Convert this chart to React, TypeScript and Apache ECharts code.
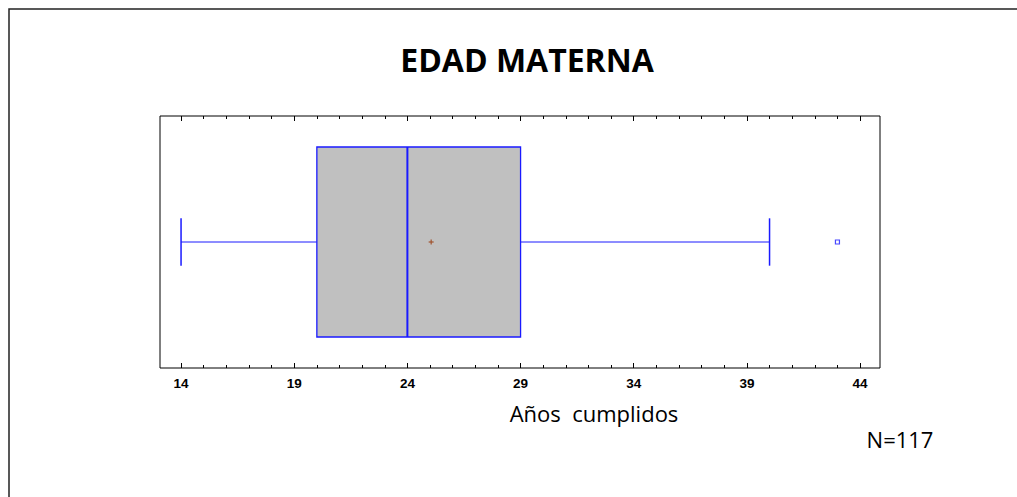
import React, { useEffect, useRef } from "react";
import * as echarts from "echarts";

const titleText = "EDAD MATERNA";
const axisTitle = "Años  cumplidos";
const sampleLabel = "N=117";
const categories = ["EDAD MATERNA"];
// min, Q1, median, Q3, max (whisker ends)
const boxStats = [14, 20, 24, 29, 40];
const meanValue = 25.05;
const outliers = [43];
const majorTicks = [14, 19, 24, 29, 34, 39, 44];
const minorTicks = [
  15, 16, 17, 18, 20, 21, 22, 23, 25, 26, 27, 28, 30, 31, 32, 33, 35, 36, 37,
  38, 40, 41, 42, 43,
];
const axisMin = 13.07;
const axisMax = 44.88;

const BLUE = "#1a1aff";
const GRID = { left: 160, top: 116, width: 720, height: 252 };

export default function App() {
  const ref = useRef<HTMLDivElement>(null);
  useEffect(() => {
    if (!ref.current) return;
    const chart = echarts.init(ref.current, null, { renderer: "svg" });

    const mkX = (grid: number, pos: string, ticks: number[], len: number, labels: boolean) => ({
      type: "value",
      gridIndex: grid,
      position: pos,
      min: axisMin,
      max: axisMax,
      axisLine: { show: false },
      splitLine: { show: false },
      axisTick: {
        show: true,
        inside: true,
        length: len,
        customValues: ticks,
        lineStyle: { color: "#000", width: 1 },
      },
      axisLabel: labels
        ? {
            show: true,
            customValues: majorTicks,
            margin: 8,
            color: "#000",
            fontFamily: "Liberation Sans, Arial, sans-serif",
            fontWeight: "bold",
            fontSize: 13.5,
          }
        : { show: false },
    });

    const mkY = (grid: number) => ({
      type: "category",
      gridIndex: grid,
      data: categories,
      show: false,
    });

    const option: any = {
      animation: false,
      backgroundColor: "#fff",
      grid: [
        { ...GRID, show: true, borderColor: "#000", borderWidth: 1, backgroundColor: "transparent" },
        { ...GRID, show: false },
      ],
      xAxis: [
        mkX(0, "bottom", majorTicks, 5, true),
        mkX(0, "top", majorTicks, 5, false),
        mkX(1, "bottom", minorTicks, 3, false),
        mkX(1, "top", minorTicks, 3, false),
      ],
      yAxis: [mkY(0), mkY(1)],
      graphic: [
        {
          type: "rect",
          shape: { x: 9, y: 9, width: 1100, height: 600 },
          style: { fill: "none", stroke: "#222", lineWidth: 1.5 },
          z: 0,
        },
        {
          type: "text",
          x: 527,
          y: 59,
          style: {
            text: titleText,
            fontFamily: "Open Sans, sans-serif",
            fontWeight: "bold",
            fontSize: 32,
            fill: "#000",
            align: "center",
            verticalAlign: "middle",
          },
        },
        {
          type: "text",
          x: 594,
          y: 413,
          style: {
            text: axisTitle,
            fontFamily: "Open Sans, sans-serif",
            fontSize: 22,
            fill: "#000",
            align: "center",
            verticalAlign: "middle",
          },
        },
        {
          type: "text",
          x: 900,
          y: 439,
          style: {
            text: sampleLabel,
            fontFamily: "Open Sans, sans-serif",
            fontSize: 22,
            fill: "#000",
            align: "center",
            verticalAlign: "middle",
          },
        },
      ],
      series: [
        {
          type: "custom",
          xAxisIndex: 0,
          yAxisIndex: 0,
          data: [[0, ...boxStats, meanValue]],
          encode: { y: 0, x: [1, 2, 3, 4, 5, 6] },
          renderItem: (params: any, api: any) => {
            const y = api.value(0);
            const vals = [1, 2, 3, 4, 5, 6].map((i) => api.value(i));
            const [mn, q1, md, q3, mx, mean] = vals.map((v: number) => api.coord([v, y]));
            const band = api.size([0, 1])[1];
            const cy = mn[1];
            const boxH = band * 0.377;
            const capH = band * 0.094;
            const blue = { stroke: BLUE, lineWidth: 1 };
            return {
              type: "group",
              children: [
                { type: "line", shape: { x1: mn[0], y1: cy, x2: q1[0], y2: cy }, style: blue },
                { type: "line", shape: { x1: q3[0], y1: cy, x2: mx[0], y2: cy }, style: blue },
                { type: "line", shape: { x1: mn[0], y1: cy - capH, x2: mn[0], y2: cy + capH }, style: { stroke: BLUE, lineWidth: 1.5 } },
                { type: "line", shape: { x1: mx[0], y1: cy - capH, x2: mx[0], y2: cy + capH }, style: { stroke: BLUE, lineWidth: 1.5 } },
                {
                  type: "rect",
                  shape: { x: q1[0], y: cy - boxH, width: q3[0] - q1[0], height: boxH * 2 },
                  style: { fill: "#c0c0c0", stroke: BLUE, lineWidth: 1.3 },
                },
                { type: "line", shape: { x1: md[0], y1: cy - boxH, x2: md[0], y2: cy + boxH }, style: { stroke: BLUE, lineWidth: 2 } },
                { type: "line", shape: { x1: mean[0] - 2.5, y1: cy, x2: mean[0] + 2.5, y2: cy }, style: { stroke: "#a0522d", lineWidth: 1.2 } },
                { type: "line", shape: { x1: mean[0], y1: cy - 2.5, x2: mean[0], y2: cy + 2.5 }, style: { stroke: "#a0522d", lineWidth: 1.2 } },
              ],
            };
          },
        },
        {
          type: "scatter",
          xAxisIndex: 0,
          yAxisIndex: 0,
          data: outliers.map((v) => [v, 0]),
          symbol: "rect",
          symbolSize: 4,
          itemStyle: { color: "#fff", borderColor: BLUE, borderWidth: 1.2 },
          z: 5,
        },
      ],
    };
    chart.setOption(option);
    return () => chart.dispose();
  }, []);

  return (
    <div
      ref={ref}
      style={{ position: "fixed", left: 0, top: 0, width: 1017, height: 497, background: "#fff" }}
    />
  );
}
